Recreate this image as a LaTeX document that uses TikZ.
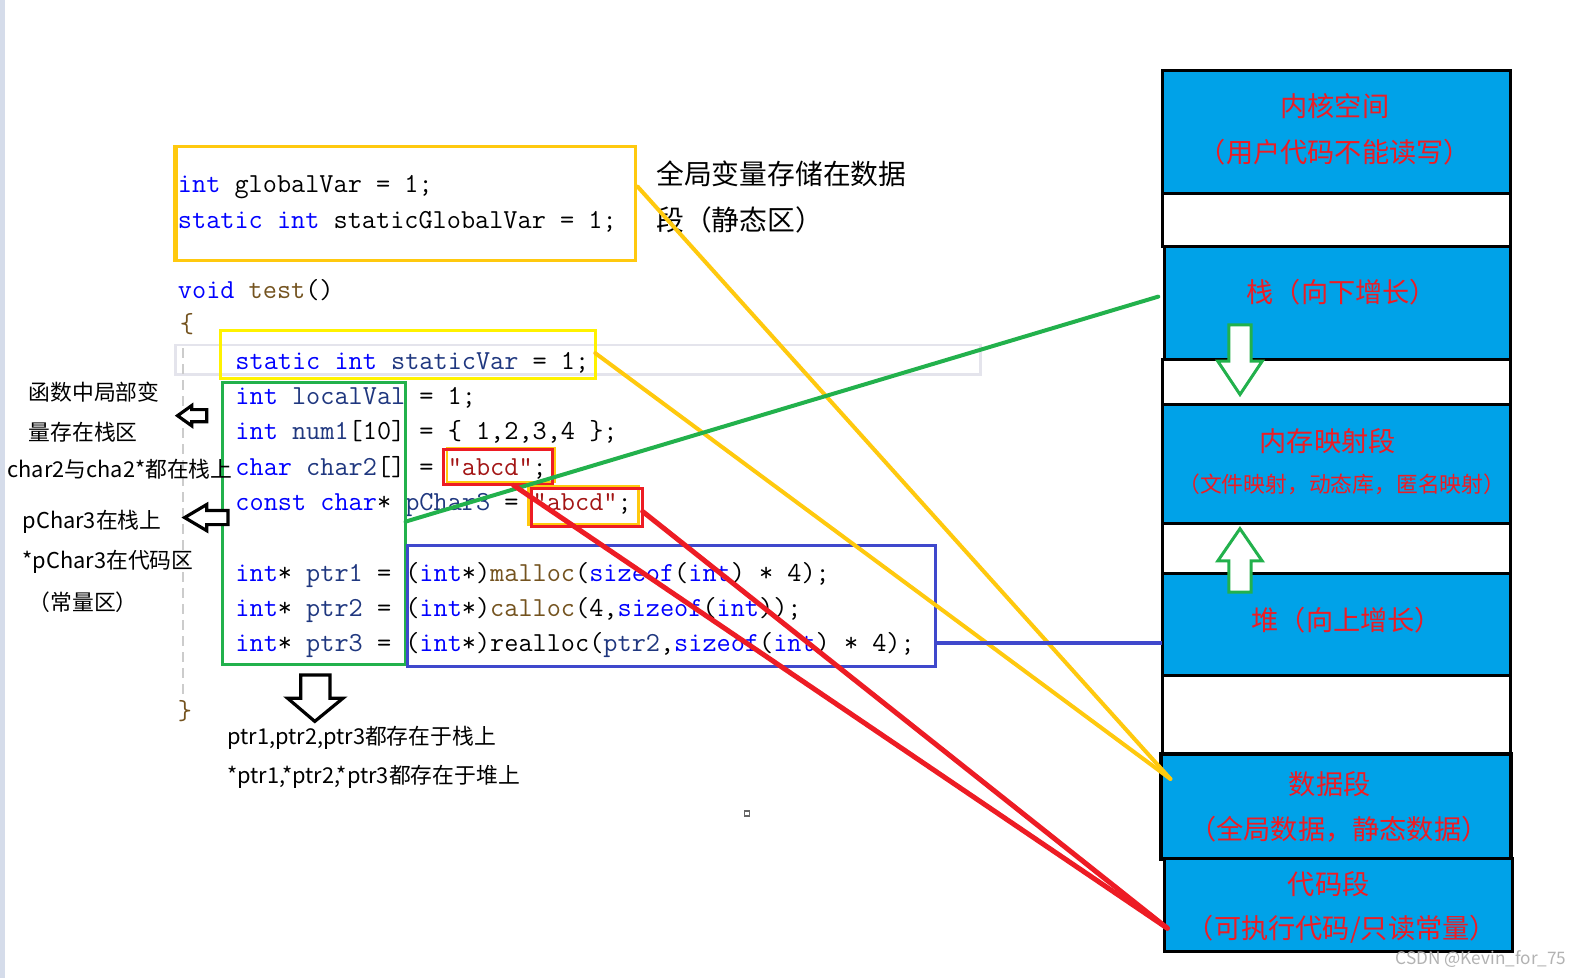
\documentclass[tikz,border=0pt]{standalone}
\usepackage{fontspec}
\setmainfont{Noto Sans CJK SC}
\definecolor{pyel}{HTML}{FFC90E}
\definecolor{byel}{HTML}{FFF200}
\definecolor{pgreen}{HTML}{22B14C}
\definecolor{pred}{HTML}{ED1C24}
\definecolor{pblue}{HTML}{3F48CC}
\definecolor{sky}{HTML}{00A2E8}
\definecolor{kwc}{HTML}{0000FF}
\definecolor{fnc}{HTML}{74531F}
\definecolor{locc}{HTML}{1F377F}
\definecolor{strc}{HTML}{A31515}
\definecolor{guide}{HTML}{E4E4EC}
\definecolor{strip}{HTML}{D5DCEA}
\newcommand{\ckw}[1]{\textcolor{kwc}{#1}}
\newcommand{\cfn}[1]{\textcolor{fnc}{#1}}
\newcommand{\cloc}[1]{\textcolor{locc}{#1}}
\newcommand{\cstr}[1]{\textcolor{strc}{#1}}
\begin{document}
\begin{tikzpicture}[x=0.50446pt,y=-0.50446pt,
  code/.style={anchor=base west,inner sep=0,font=\ttfamily\fontsize{13.74}{14}\selectfont},
  note/.style={anchor=west,inner sep=0,font=\fontsize{10.9}{12}\selectfont},
  bignote/.style={anchor=west,inner sep=0,font=\fontsize{13.9}{15}\selectfont},
  segtxt/.style={inner sep=0,text=pred,font=\fontsize{13.6}{15}\selectfont},
  segsmall/.style={inner sep=0,text=pred,font=\fontsize{10.9}{12}\selectfont},
  seg/.style={draw=black,line width=1.5pt},
  hollow/.style={draw=black,fill=white,line width=1.6pt,line join=miter},
  garrow/.style={draw=pgreen,fill=white,line width=1.5pt,line join=miter},
  conn/.style={line width=2pt}]
\useasboundingbox (0,0) rectangle (1568,969.3);
\fill[white] (0,0) rectangle (1568,969.3);
\fill[strip] (0,0) rectangle (5,969.3);
% editor guides
\draw[guide,line width=1.2pt] (174,342) rectangle (972,371);
\draw[black!20,line width=1pt,dash pattern=on 5pt off 3pt] (181,345) -- (181,692);
% code
\node[code] (l1) at (176,191) {\ckw{int} globalVar = 1;};
\node[code] (l2) at (176,226) {\ckw{static} \ckw{int} staticGlobalVar = 1;};
\node[code] (l3) at (176,296) {\ckw{void} \cfn{test}()};
\node[code] (l4) at (178,330) {\cfn{\{}};
\node[code] (l5) at (233,366) {\ckw{static} \ckw{int} \cloc{staticVar} = 1;};
\node[code] (l6) at (233,401) {\ckw{int} \cloc{localVal} = 1;};
\node[code] (l7) at (233,436) {\ckw{int} \cloc{num1}[10] = \{ 1,2,3,4 \};};
\node[code] (l8) at (233,471) {\ckw{char} \cloc{char2}[] = \cstr{"abcd"};};
\node[code] (l9) at (233,506) {\ckw{const} \ckw{char}* \cloc{pChar3} = \cstr{"abcd"};};
\node[code] (l10) at (233,576) {\ckw{int}* \cloc{ptr1} = (\ckw{int}*)\cfn{malloc}(\ckw{sizeof}(\ckw{int}) * 4);};
\node[code] (l11) at (233,611) {\ckw{int}* \cloc{ptr2} = (\ckw{int}*)\cfn{calloc}(4,\ckw{sizeof}(\ckw{int}));};
\node[code] (l12) at (233,646) {\ckw{int}* \cloc{ptr3} = (\ckw{int}*)realloc(\cloc{ptr2},\ckw{sizeof}(\ckw{int}) * 4);};
\node[code] (l13) at (176,713) {\cfn{\}}};
% code boxes
\draw[pyel,line width=1.5pt] (173,145) rectangle (630,258);
\draw[pyel,line width=2.5pt] (174,144) -- (174,258);
\draw[byel,line width=1.5pt] (219,328) rectangle (590,375);
\draw[pgreen,line width=1.5pt] (221,379) rectangle (402,659);
\draw[pyel,line width=1.2pt] (443,444) rectangle (550,478);
\draw[pred,line width=1.5pt] (440,446) rectangle (548,480);
\draw[pyel,line width=1.2pt] (524,482) rectangle (633,520);
\draw[pred,line width=1.5pt] (527,484) rectangle (637,522);
\draw[pblue,line width=1.5pt] (404,541) rectangle (927,661);
% notes
\node[bignote] (gnote1) at (650,172) {全局变量存储在数据};
\node[bignote] (gnote2) at (650,218) {段（静态区）};
\node[note] (n1) at (28,389) {函数中局部变};
\node[note] (n2) at (28,428) {量存在栈区};
\node[note] (n3) at (7,465) {char2与cha2*都在栈上};
\node[note] (n4) at (22,517) {pChar3在栈上};
\node[note] (n5) at (22,557) {*pChar3在代码区};
\node[note] (n6) at (28,597) {（常量区）};
\node[note] (n7) at (225,731) {ptr1,ptr2,ptr3都存在于栈上};
\node[note] (n8) at (225,770) {*ptr1,*ptr2,*ptr3都存在于堆上};
% hollow arrows
\draw[hollow] (176,412) -- (190,402) -- (190,406) -- (205,406) -- (205,418) -- (190,418) -- (190,422) -- cycle;
\draw[hollow] (183,513) -- (205,500) -- (205,506) -- (226,506) -- (226,520) -- (205,520) -- (205,526) -- cycle;
\draw[hollow] (298,669) -- (327,669) -- (327,692) -- (340,692) -- (312,715) -- (285,692) -- (298,692) -- cycle;
% memory layout
\draw[seg,fill=sky] (1152,70) rectangle (1497,192);
\draw[seg,fill=white] (1152,192) rectangle (1497,244);
\draw[seg,fill=sky] (1154,244) rectangle (1497,356);
\draw[seg,fill=white] (1152,356) rectangle (1497,401);
\draw[seg,fill=sky] (1152,401) rectangle (1497,519);
\draw[seg,fill=white] (1152,519) rectangle (1497,568);
\draw[seg,fill=sky] (1152,568) rectangle (1497,670);
\draw[seg,fill=white] (1152,670) rectangle (1497,747);
\draw[seg,fill=sky,line width=2pt] (1151,747) rectangle (1498,851);
\draw[seg,fill=sky] (1154,851) rectangle (1499,943);
\node[segtxt] (kern1) at (1323,105) {内核空间};
\node[segtxt] (kern2) at (1323,151) {（用户代码不能读写）};
\node[segtxt] (stack) at (1330,290) {栈（向下增长）};
\node[segtxt] (mmap1) at (1316,437) {内存映射段};
\node[segsmall] (mmap2) at (1330,480) {（文件映射，动态库，匿名映射）};
\node[segtxt] (heap) at (1335,615) {堆（向上增长）};
\node[segtxt] (data1) at (1318,777) {数据段};
\node[segtxt] (data2) at (1327,822) {（全局数据，静态数据）};
\node[segtxt] (code1) at (1317,876) {代码段};
\node[segtxt] (code2) at (1330,921) {（可执行代码/只读常量）};
\draw[garrow] (1218,322) -- (1240,322) -- (1240,358) -- (1251,358) -- (1229,391) -- (1207,358) -- (1218,358) -- cycle;
\draw[garrow] (1218,587) -- (1240,587) -- (1240,556) -- (1251,556) -- (1229,524) -- (1207,556) -- (1218,556) -- cycle;
% connector end points
\coordinate (yA) at (632,185);
\coordinate (yB) at (590,350);
\coordinate (yEnd) at (1160,772);
\coordinate (gA) at (402,517);
\coordinate (gEnd) at (1148,294);
\coordinate (rA) at (509,481);
\coordinate (rB) at (637,507);
\coordinate (rEnd) at (1157,920);
\coordinate (bA) at (927,637);
\coordinate (bEnd) at (1152,637);
\draw[conn,pyel,line cap=round] (yA) -- (yEnd);
\draw[conn,pyel,line cap=round] (yB) -- (yEnd);
\draw[conn,pgreen,line cap=round] (gA) -- (gEnd);
\draw[conn,pred,line width=2.5pt,line cap=round] (rA) -- (rEnd);
\draw[conn,pred,line width=2.5pt,line cap=round] (rB) -- (rEnd);
\draw[conn,pblue] (bA) -- (bEnd);
% misc
\draw[black!60,line width=0.8pt] (738,804) rectangle (743,809);
\node[inner sep=0,anchor=east,text=black!30,font=\fontsize{8.6}{10}\selectfont] (wm) at (1553,951) {CSDN @Kevin\_for\_75};
\end{tikzpicture}
\end{document}
